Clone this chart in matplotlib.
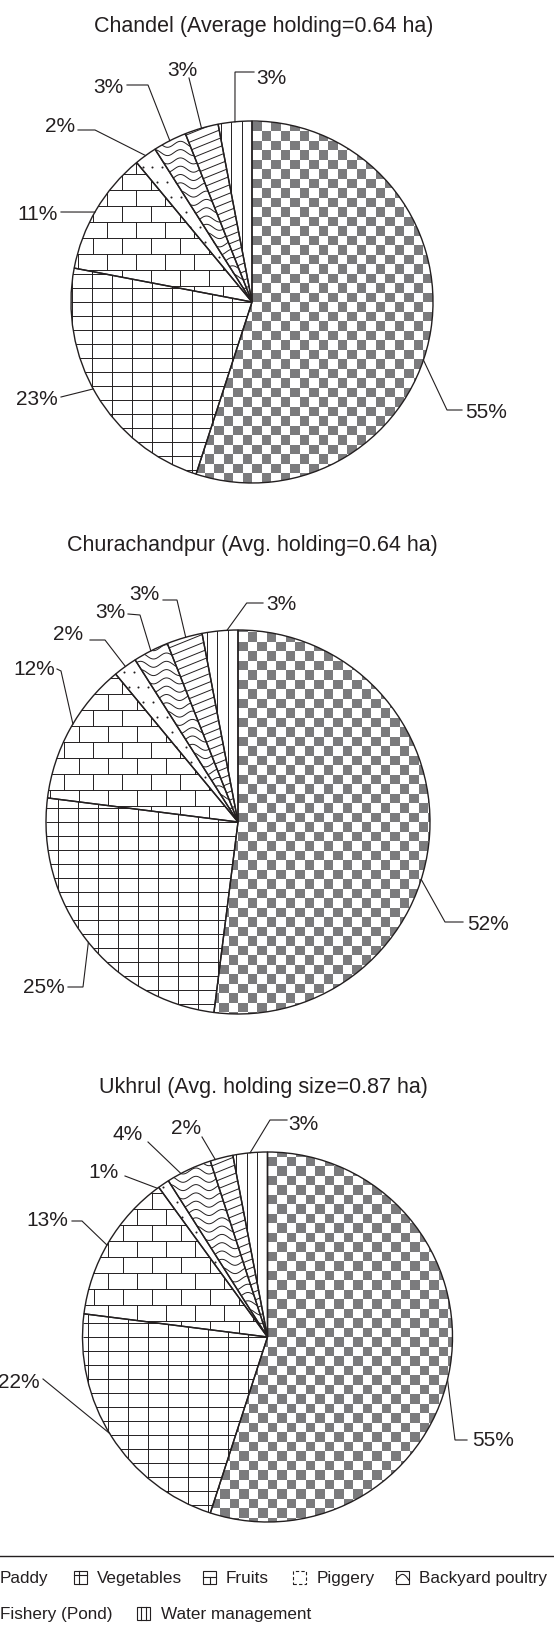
import numpy as np
import matplotlib
matplotlib.use("Agg")
import matplotlib.pyplot as plt
from matplotlib.collections import LineCollection, PatchCollection
from matplotlib.patches import Rectangle

plt.rcParams['font.family'] = ['Liberation Sans', 'DejaVu Sans']

# ---------------- data ----------------
categories = ['Paddy', 'Vegetables', 'Fruits', 'Piggery', 'Backyard poultry',
              'Fishery (Pond)', 'Water management']
chandel = [55, 23, 11, 2, 3, 3, 3]
churachandpur = [52, 25, 12, 2, 3, 3, 3]
ukhrul = [55, 22, 13, 1, 4, 2, 3]
titles = ['Chandel (Average holding=0.64 ha)',
          'Churachandpur (Avg. holding=0.64 ha)',
          'Ukhrul (Avg. holding size=0.87 ha)']

# ---------------- layout (pixels, image coords) ----------------
W, H = 554, 1627
INK = '#231f20'
GREY = '#7b7b7d'
pies = [chandel, churachandpur, ukhrul]
geo = [dict(c=(252, 302), r=181, t=(264, 24)),
       dict(c=(238, 822), r=192, t=(252, 543)),
       dict(c=(267.5, 1337), r=185, t=(263.5, 1086))]

# label layout: (anchor angle clockwise from top, leader points from text side, text pos, ha)
label_layout = [
    [(108.7, [(462, 410), (447, 410)], (465, 410), 'left'),
     (241.3, [(61, 397)], (58, 397), 'right'),
     (299.8, [(61, 212)], (58, 212), 'right'),
     (324.0, [(78, 130), (95, 130)], (75, 124), 'right'),
     (333.0, [(127, 85), (148, 85)], (124, 85), 'right'),
     (343.8, [(189, 78)], (182, 68), 'center'),
     (354.6, [(254, 72), (235, 72)], (256, 76), 'left')],
    [(107.4, [(463, 922), (445, 922)], (467, 922), 'left'),
     (231.2, [(68, 987), (83, 987)], (65, 985), 'right'),
     (300.7, [(57, 669), (61, 671)], (55, 667), 'right'),
     (324.1, [(90, 640), (105, 640)], (83, 632), 'right'),
     (333.0, [(128, 614), (140, 615)], (125, 610), 'right'),
     (344.2, [(163, 600), (177, 600)], (159, 592), 'right'),
     (356.7, [(263, 603), (246.7, 603)], (266, 602), 'left')],
    [(103.3, [(467, 1440), (455, 1440)], (472, 1438), 'left'),
     (238.6, [(43, 1379)], (40, 1381), 'right'),
     (299.8, [(72, 1221), (82, 1221)], (68, 1218), 'right'),
     (323.5, [(125, 1176)], (119, 1170), 'right'),
     (332.1, [(148, 1142)], (143, 1133), 'right'),
     (343.6, [(202, 1137)], (186, 1127), 'center'),
     (354.6, [(287, 1120), (270, 1120)], (288, 1122), 'left')],
]

LABEL_FS = 15
TITLE_FS = 15.5
LEG_FS = 12.3


def Y(y):
    return H - y


fig = plt.figure(figsize=(W / 100, H / 100), dpi=100)
ax = fig.add_axes([0, 0, 1, 1])


def add_lines(segs, wedge, lw=0.7):
    lc = LineCollection(segs, colors=INK, linewidths=lw, zorder=0.6)
    ax.add_collection(lc)
    lc.set_clip_path(wedge)


def pat_checker(cx, cy, r, wedge, s=9.5):
    rects = []
    n = int(r / s) + 2
    for i in range(-n, n):
        for j in range(-n, n):
            if (i + j) % 2 == 0:
                rects.append(Rectangle((cx + i * s, cy + j * s), s, s))
    pc = PatchCollection(rects, facecolor=GREY, edgecolor='none', linewidth=0,
                         zorder=0.5, antialiased=False)
    ax.add_collection(pc)
    pc.set_clip_path(wedge)


def pat_grid(cx, cy, r, wedge, sx=20.0, sy=14.0):
    segs = []
    for k in range(-int(r / sx) - 2, int(r / sx) + 2):
        x = cx + k * sx
        segs.append([(x, cy - r), (x, cy + r)])
    for k in range(-int(r / sy) - 2, int(r / sy) + 2):
        y = cy + k * sy
        segs.append([(cx - r, y), (cx + r, y)])
    add_lines(segs, wedge)


def pat_brick(cx, cy, r, wedge, bh=16.0, bw=29.0):
    segs = []
    for k in range(-int(r / bh) - 2, int(r / bh) + 2):
        y = cy + k * bh
        segs.append([(cx - r, y), (cx + r, y)])
        off = 0.5 * bw * (k % 2)
        for m in range(-int(r / bw) - 2, int(r / bw) + 2):
            x = cx + m * bw + off
            segs.append([(x, y), (x, y + bh)])
    add_lines(segs, wedge)


def pat_dots(cx, cy, r, wedge, dx=9.5, dy=15.0):
    xs, ys = [], []
    for j in range(-int(r / dy) - 2, int(r / dy) + 2):
        for i in range(-int(r / dx) - 2, int(r / dx) + 2):
            xs.append(cx + i * dx + (j % 2) * dx / 2)
            ys.append(cy + j * dy)
    sc = ax.scatter(xs, ys, s=2.2, color=INK, linewidths=0, zorder=0.6)
    sc.set_clip_path(wedge)


def pat_wave(cx, cy, r, wedge, sp=8.3, amp=3.0, lam=26.0):
    segs = []
    xx = np.linspace(cx - r, cx + r, 400)
    for k in range(-int(r / sp) - 2, int(r / sp) + 2):
        yy = cy + k * sp + amp * np.sin(2 * np.pi * (xx - cx) / lam)
        segs.append(np.column_stack([xx, yy]))
    add_lines(segs, wedge)


def pat_slant(cx, cy, r, wedge, sp=7.8, ang=22.0):
    a = np.deg2rad(ang)
    d = np.array([np.cos(a), np.sin(a)])
    nrm = np.array([-np.sin(a), np.cos(a)])
    segs = []
    for k in range(-int(r / sp) - 2, int(r / sp) + 2):
        p0 = np.array([cx, cy]) + k * sp * nrm
        segs.append([tuple(p0 - 1.5 * r * d), tuple(p0 + 1.5 * r * d)])
    add_lines(segs, wedge)


def pat_vert(cx, cy, r, wedge, sp=10.5):
    segs = []
    for k in range(-int(r / sp) - 2, int(r / sp) + 2):
        x = cx + k * sp
        segs.append([(x, cy - r), (x, cy + r)])
    add_lines(segs, wedge)


patterns = [pat_checker, pat_grid, pat_brick, pat_dots, pat_wave, pat_slant, pat_vert]

for vals, g, title, labs in zip(pies, geo, titles, label_layout):
    cx, cy = g['c'][0], Y(g['c'][1])
    r = g['r']
    wedges, _ = ax.pie(vals, startangle=90, counterclock=False, center=(cx, cy),
                       radius=r, wedgeprops=dict(facecolor='none', edgecolor=INK,
                                                 linewidth=1.0, zorder=1))
    for w, pf in zip(wedges, patterns):
        pf(cx, cy, r, w)
    # title
    ax.text(g['t'][0], Y(g['t'][1] + 7.5), title, ha='center', va='baseline',
            fontsize=TITLE_FS, color=INK)
    # labels and leaders
    for v, (theta, pts, txy, ha) in zip(vals, labs):
        th = np.deg2rad(theta)
        anchor = (cx + r * np.sin(th), cy + r * np.cos(th))
        path = [(px, Y(py)) for px, py in pts] + [anchor]
        xs, ys = zip(*path)
        ax.plot(xs, ys, color=INK, lw=0.8, zorder=2, solid_joinstyle='miter')
        ax.text(txy[0], Y(txy[1] + 7.5), f'{v}%', ha=ha, va='baseline',
                fontsize=LABEL_FS, color=INK)

# ---------------- legend ----------------
ax.plot([0, W], [Y(1556), Y(1556)], color=INK, lw=1.0)


def icon(kind, x, yc, s=13.0):
    y0 = Y(yc) - s / 2
    lw = 0.8
    if kind == 'Piggery':
        ax.add_patch(Rectangle((x, y0), s, s, fill=False, ec=INK, lw=lw, ls=(0, (3, 2))))
    else:
        ax.add_patch(Rectangle((x, y0), s, s, fill=False, ec=INK, lw=lw))
    if kind == 'Vegetables':
        ax.plot([x + 0.38 * s] * 2, [y0, y0 + s], color=INK, lw=lw)
        ax.plot([x, x + s], [y0 + 0.62 * s] * 2, color=INK, lw=lw)
    elif kind == 'Fruits':
        ax.plot([x, x + s], [y0 + 0.5 * s] * 2, color=INK, lw=lw)
        ax.plot([x + 0.5 * s] * 2, [y0, y0 + 0.5 * s], color=INK, lw=lw)
    elif kind == 'Backyard poultry':
        t = np.linspace(0, 1, 30)
        ax.plot(x + t * s, y0 + 0.25 * s + 0.45 * s * np.sin(np.pi * t), color=INK, lw=lw)
    elif kind == 'Water management':
        ax.plot([x + 0.3 * s] * 2, [y0, y0 + s], color=INK, lw=lw)
        ax.plot([x + 0.7 * s] * 2, [y0, y0 + s], color=INK, lw=lw)


legend_pos = [  # (icon x or None, text x, row center y)
    (None, 0, 1577),
    (74, 97, 1577),
    (203, 226, 1577),
    (293, 317, 1577),
    (396, 419, 1577),
    (None, 0, 1613),
    (137, 161, 1613),
]
for name, (ix, tx, yc) in zip(categories, legend_pos):
    if ix is not None:
        icon(name, ix, yc)
    ax.text(tx, Y(yc + 6), name, ha='left', va='baseline', fontsize=LEG_FS, color=INK)

ax.set_xlim(0, W)
ax.set_ylim(0, H)
ax.set_aspect('auto')
ax.axis('off')
fig.savefig('out.png', dpi=100, facecolor='white')
